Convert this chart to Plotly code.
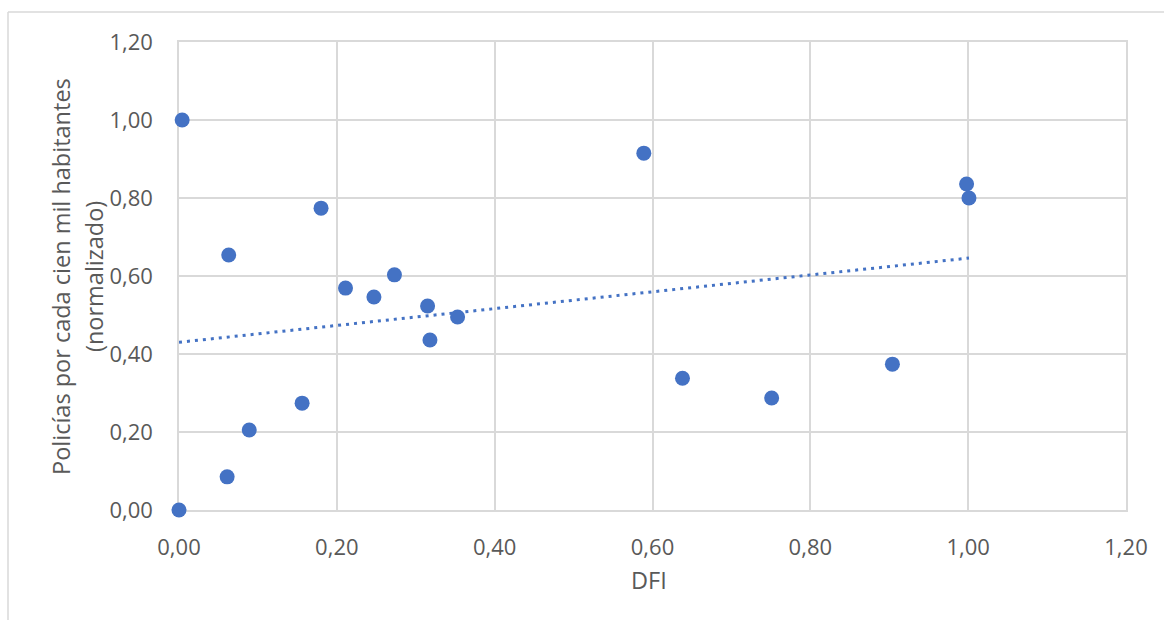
import numpy as np
import plotly.graph_objects as go

# Data
dfi = [0.000, 0.004, 0.063, 0.061, 0.089, 0.156, 0.180, 0.211, 0.247, 0.273,
       0.315, 0.318, 0.353, 0.589, 0.638, 0.751, 0.904, 0.998, 1.001]
policias = [0.000, 1.000, 0.654, 0.085, 0.205, 0.274, 0.774, 0.569, 0.546, 0.603,
            0.523, 0.436, 0.495, 0.915, 0.338, 0.287, 0.374, 0.836, 0.800]
tick_vals = [0.0, 0.2, 0.4, 0.6, 0.8, 1.0, 1.2]
tick_text = ["0,00", "0,20", "0,40", "0,60", "0,80", "1,00", "1,20"]
x_title = "DFI"
y_title_1 = "Policías por cada cien mil habitantes"
y_title_2 = "(normalizado)"

# Linear trendline (least squares), spanning data range
slope, intercept = np.polyfit(dfi, policias, 1)
tx = [min(dfi), max(dfi)]
ty = [intercept + slope * v for v in tx]

W, H = 1164, 620
L, R, T, B = 179, 38, 42, 110
pw, ph = W - L - R, H - T - B

def px(xpix):
    return (xpix - L) / pw

def py(ypix):
    return (H - B - ypix) / ph

blue = "#4472C4"
grid = "#d9d9d9"
txt = "#595959"
font = "Open Sans"
tick_size = 22
title_size = 23.5

fig = go.Figure()
fig.add_trace(go.Scatter(x=tx, y=ty, mode="lines",
                         line=dict(color=blue, width=3, dash="3px,5px"),
                         hoverinfo="skip", showlegend=False, cliponaxis=False))
fig.add_trace(go.Scatter(x=dfi, y=policias, mode="markers",
                         marker=dict(color=blue, size=15),
                         showlegend=False, cliponaxis=False))

axis_common = dict(range=[0, 1.2], tickvals=tick_vals, ticktext=tick_text,
                   showgrid=True, gridcolor=grid, gridwidth=1.5,
                   zeroline=False, showline=True, linecolor=grid, linewidth=1.5,
                   mirror=True, ticks="", tickfont=dict(family=font, size=tick_size, color=txt),
                   layer="below traces", fixedrange=True)
fig.update_xaxes(**axis_common, ticklabelstandoff=17)
fig.update_yaxes(**axis_common, ticklabelstandoff=20)

fig.update_layout(
    width=W, height=H,
    margin=dict(l=L, r=R, t=T, b=B, autoexpand=False),
    paper_bgcolor="white", plot_bgcolor="white",
    font=dict(family=font, size=tick_size, color=txt),
    annotations=[
        dict(text=x_title, xref="paper", yref="paper", x=px(649), y=py(580),
             xanchor="center", yanchor="middle", showarrow=False,
             font=dict(family=font, size=title_size, color=txt)),
        dict(text=y_title_1, xref="paper", yref="paper", x=px(61), y=py(277),
             xanchor="center", yanchor="middle", showarrow=False, textangle=-90,
             font=dict(family=font, size=title_size, color=txt)),
        dict(text=y_title_2, xref="paper", yref="paper", x=px(94), y=py(277),
             xanchor="center", yanchor="middle", showarrow=False, textangle=-90,
             font=dict(family=font, size=title_size, color=txt)),
    ],
    shapes=[
        dict(type="line", xref="paper", yref="paper", x0=px(8), x1=px(1170),
             y0=py(12), y1=py(12), line=dict(color=grid, width=1.5)),
        dict(type="line", xref="paper", yref="paper", x0=px(8), x1=px(8),
             y0=py(12), y1=py(630), line=dict(color=grid, width=1.5)),
    ],
)

fig.write_html("out.html")
